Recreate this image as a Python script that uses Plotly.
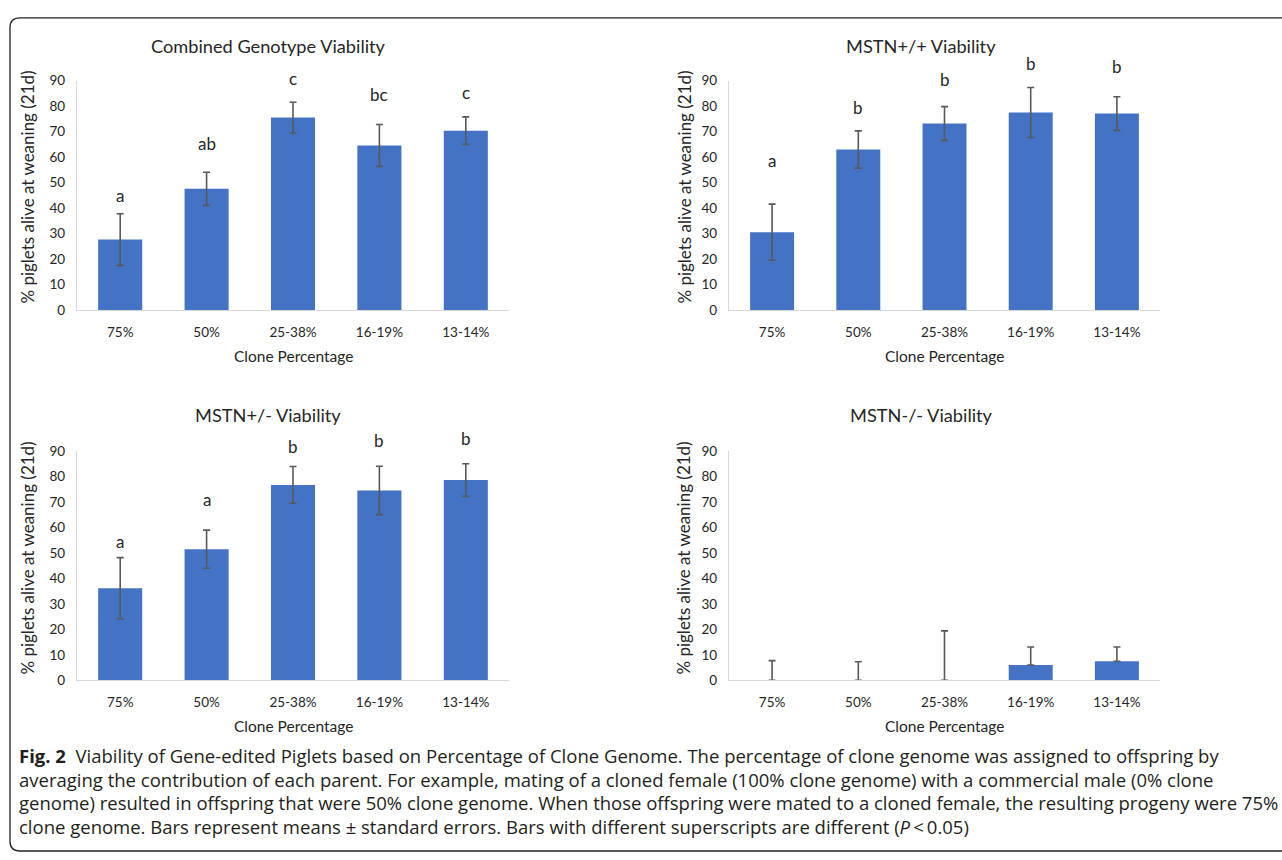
import plotly.graph_objects as go

W, H = 1282, 860

categories = ["75%", "50%", "25-38%", "16-19%", "13-14%"]

combined_means = [27.7, 47.6, 75.5, 64.6, 70.4]
combined_se = [10.1, 6.5, 6.0, 8.2, 5.4]
combined_letters = ["a", "ab", "c", "bc", "c"]
combined_letter_y = [45, 65.5, 91, 84.7, 85.4]

pp_means = [30.6, 63.0, 73.2, 77.5, 77.1]
pp_se = [11.0, 7.3, 6.6, 9.8, 6.6]
pp_letters = ["a", "b", "b", "b", "b"]
pp_letter_y = [58.8, 79.3, 90.3, 96.7, 95.7]

pm_means = [36.2, 51.5, 76.8, 74.6, 78.7]
pm_se = [12.0, 7.5, 7.2, 9.5, 6.4]
pm_letters = ["a", "a", "b", "b", "b"]
pm_letter_y = [54.4, 71, 91.9, 94.2, 95]

mm_means = [0, 0, 0, 6.0, 7.5]
mm_se = [7.7, 7.3, 19.4, 7.1, 5.6]

y_ticks = [0, 10, 20, 30, 40, 50, 60, 70, 80, 90]

titles = ["Combined Genotype Viability", "MSTN+/+ Viability", "MSTN+/- Viability", "MSTN-/- Viability"]
y_title = "% piglets alive at weaning (21d)"
x_title = "Clone Percentage"

caption_lines = [
    "<b>Fig. 2</b>  Viability of Gene-edited Piglets based on Percentage of Clone Genome. The percentage of clone genome was assigned to offspring by",
    "averaging the contribution of each parent. For example, mating of a cloned female (100% clone genome) with a commercial male (0% clone",
    "genome) resulted in offspring that were 50% clone genome. When those offspring were mated to a cloned female, the resulting progeny were 75%",
    "clone genome. Bars represent means \u00b1 standard errors. Bars with different superscripts are different (<i>P</i>\u2009<\u20090.05)",
]

BAR = "#4472C4"
ERR = "#595959"
TXT = "#262626"
FONT = "Lato"
CAP_FONT = "Open Sans"
Y_MAX = y_ticks[-1]


def fx(p):
    return p / W


def fy(p):
    return 1 - p / H


# panel layout in pixels: (x0, x1, ytop, ybottom)
boxes = [(77, 509, 74, 308), (729, 1160, 74, 308), (77, 509, 451.7, 685), (729, 1160, 451.7, 685)]
title_pos = [(268, 39), (921, 39), (268, 415), (921, 415)]
xt_pos = [(293, 355), (945, 355), (293, 732), (945, 732)]
yt_pos = [(28, 183), (685, 183), (28, 561), (684, 561)]

series = [
    (combined_means, combined_se, combined_se, combined_letters, combined_letter_y),
    (pp_means, pp_se, pp_se, pp_letters, pp_letter_y),
    (pm_means, pm_se, pm_se, pm_letters, pm_letter_y),
    (mm_means, mm_se, [0] * len(mm_se), None, None),
]

fig = go.Figure()
annotations = []
layout_axes = {}

for i, (means, plus, minus, letters, ly) in enumerate(series):
    n = i + 1
    xa = "x" if n == 1 else f"x{n}"
    ya = "y" if n == 1 else f"y{n}"
    fig.add_trace(go.Bar(
        x=categories, y=means, xaxis=xa, yaxis=ya,
        marker=dict(color=BAR, line=dict(width=0)),
        error_y=dict(type="data", symmetric=False, array=plus, arrayminus=minus,
                     color=ERR, thickness=1.6, width=3.5),
        showlegend=False, hoverinfo="x+y",
    ))
    if letters:
        for c, t, v in zip(categories, letters, ly):
            annotations.append(dict(text=t, x=c, y=v / Y_MAX, xref=xa, yref=f"{ya} domain",
                                    showarrow=False, xanchor="center", yanchor="middle",
                                    font=dict(family=FONT, size=17, color=TXT)))
    x0, x1, yt, yb = boxes[i]
    xkey = "xaxis" if n == 1 else f"xaxis{n}"
    ykey = "yaxis" if n == 1 else f"yaxis{n}"
    layout_axes[xkey] = dict(
        domain=[fx(x0), fx(x1)], anchor=ya, type="category",
        showline=True, linecolor="#D9D9D9", linewidth=1.3,
        ticks="outside", ticklen=9, tickcolor="rgba(0,0,0,0)",
        tickfont=dict(family=FONT, size=13.5, color=TXT), showgrid=False, zeroline=False,
        fixedrange=True,
    )
    layout_axes[ykey] = dict(
        domain=[fy(yb), fy(yt)], anchor=xa, range=[0, Y_MAX], tickvals=y_ticks,
        showline=True, linecolor="#D9D9D9", linewidth=1.3,
        ticks="outside", ticklen=8, tickcolor="rgba(0,0,0,0)",
        tickfont=dict(family=FONT, size=13.5, color=TXT), showgrid=False, zeroline=False,
        fixedrange=True,
    )
    tx, ty = title_pos[i]
    annotations.append(dict(text=titles[i], x=fx(tx), y=fy(ty), xref="paper", yref="paper",
                            showarrow=False, xanchor="center", yanchor="middle",
                            font=dict(family=FONT, size=18.2, color=TXT)))
    tx, ty = xt_pos[i]
    annotations.append(dict(text=x_title, x=fx(tx), y=fy(ty), xref="paper", yref="paper",
                            showarrow=False, xanchor="center", yanchor="middle",
                            font=dict(family=FONT, size=15.5, color=TXT)))
    tx, ty = yt_pos[i]
    annotations.append(dict(text=y_title, x=fx(tx), y=fy(ty), xref="paper", yref="paper",
                            showarrow=False, xanchor="center", yanchor="middle", textangle=-90,
                            font=dict(family=FONT, size=17, color=TXT)))

cap_y = [762, 786, 810, 834]
for line, cy in zip(caption_lines, cap_y):
    annotations.append(dict(text=line, x=fx(17), y=fy(cy), xref="paper", yref="paper",
                            showarrow=False, xanchor="left", yanchor="middle", align="left",
                            font=dict(family=CAP_FONT, size=18.5, color="#231F20")))


def P(x, y):
    return f"{fx(x):.5f},{fy(y):.5f}"


frame_path = (f"M {P(1282, 10)} L {P(20, 10)} Q {P(10, 10)} {P(10, 20)} "
              f"L {P(10, 849)} Q {P(10, 859)} {P(20, 859)} L {P(1282, 859)}")

fig.update_layout(
    width=W, height=H, margin=dict(l=0, r=0, t=0, b=0),
    paper_bgcolor="white", plot_bgcolor="white",
    bargap=0.49, annotations=annotations,
    shapes=[dict(type="path", path=frame_path, xref="paper", yref="paper",
                 line=dict(color="#231F20", width=1.3))],
    **layout_axes,
)

post = ("var s=document.createElement('style');"
        "s.textContent='html,body{margin:0!important;padding:0!important;overflow:hidden;background:#fff;}"
        "body>div{margin:0;padding:0;line-height:0;font-size:0;}';"
        "document.head.appendChild(s);"
        "var gd=document.getElementById('{plot_id}');gd.style.display='block';gd.style.margin='0';")

fig.write_html("out.html", post_script=post, config={"displayModeBar": False})
